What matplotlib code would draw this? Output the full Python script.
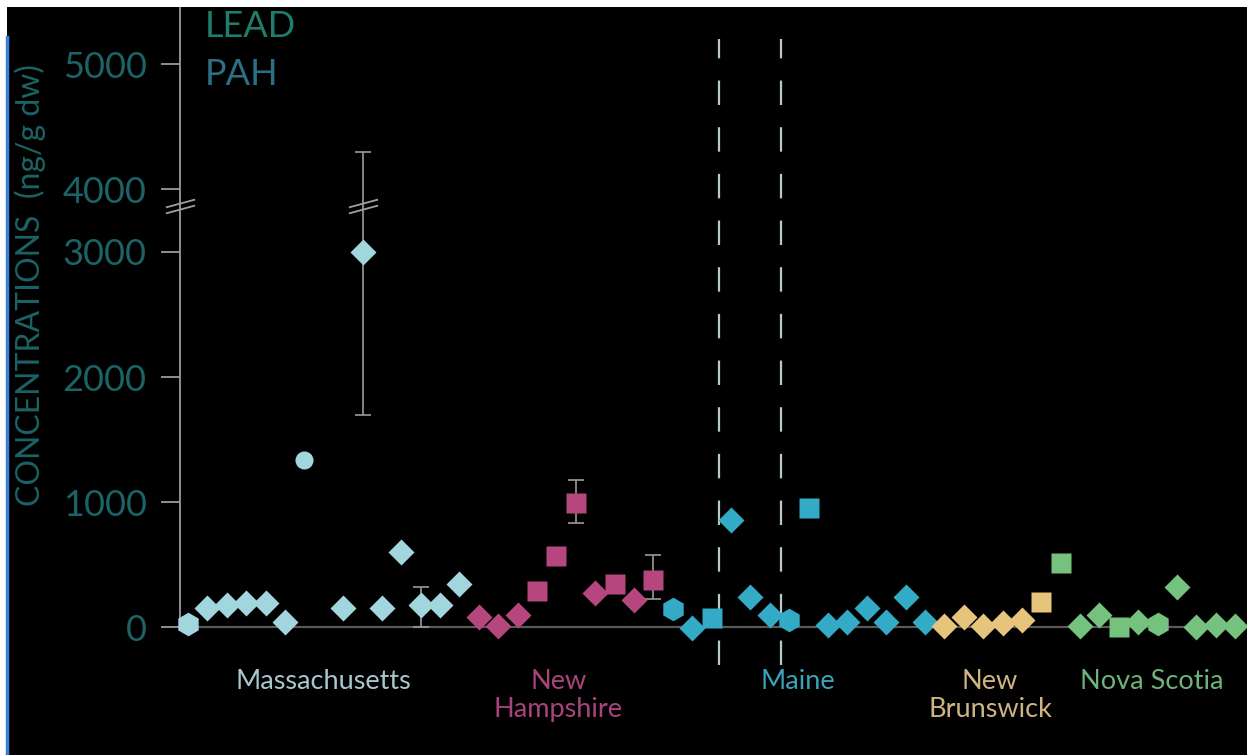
import numpy as np
import matplotlib.pyplot as plt
from matplotlib.patches import Rectangle
from matplotlib.lines import Line2D
import matplotlib.transforms as mtransforms

plt.rcParams['font.family'] = ['Lato', 'DejaVu Sans']

# site index along the coast, concentration (ng/g dw), marker shape
ma_x = [0, 1, 2, 3, 4, 5, 6, 8, 9, 10, 11, 12, 13, 14]
ma_y = [25, 150, 175, 190, 190, 40, 1340, 150, 3000, 150, 600, 175, 175, 345]
ma_m = ['h', 'D', 'D', 'D', 'D', 'D', 'o', 'D', 'D', 'D', 'D', 'D', 'D', 'D']

nh_x = [15, 16, 17, 18, 19, 20, 21, 22, 23, 24]
nh_y = [80, 10, 95, 290, 570, 990, 270, 345, 215, 375]
nh_m = ['D', 'D', 'D', 's', 's', 's', 'D', 's', 'D', 's']

me_x = [25, 26, 27, 28, 29, 30, 31, 32, 33, 34, 35, 36, 37, 38]
me_y = [145, -10, 70, 855, 240, 95, 55, 950, 15, 40, 150, 40, 240, 40]
me_m = ['h', 'D', 's', 'D', 'D', 'D', 'h', 's', 'D', 'D', 'D', 'D', 'D', 'D']

nb_x = [39, 40, 41, 42, 43, 44]
nb_y = [10, 85, 10, 30, 60, 205]
nb_m = ['D', 'D', 'D', 'D', 'D', 's']

ns_x = [45, 46, 47, 48, 49, 50, 51, 52, 53, 54]
ns_y = [510, 10, 95, 0, 40, 25, 320, 0, 15, 10]
ns_m = ['s', 'D', 'D', 's', 'D', 'h', 'D', 'D', 'D', 'D']

# error bars: site, low, high
err_x = [9, 12, 20, 24]
err_lo = [1700, 0, 830, 225]
err_hi = [4300, 320, 1180, 575]
err_mid = [3000, 175, 990, 375]

region_names = ['Massachusetts', 'New\nHampshire', 'Maine', 'New\nBrunswick', 'Nova Scotia']
region_pos = [6.96, 19.1, 31.45, 41.36, 49.7]
maine_bounds = [27.38, 30.58]
yticks = [0, 1000, 2000, 3000, 4000, 5000]

colors = {'ma': '#a2d6de', 'nh': '#b5477e', 'me': '#33abc6', 'nb': '#e6c47c', 'ns': '#74c27d'}
label_colors = ['#a9c6cd', '#a8447a', '#3aa3b8', '#cdb583', '#6fb27a']
msize = {'D': 13, 's': 14, 'o': 13, 'h': 17}


# broken axis: 3000-4000 squeezed to half
def fwd(v):
    v = np.asarray(v, dtype=float)
    return np.where(v <= 3000, v, np.where(v <= 4000, 3000 + 0.5 * (v - 3000), v - 500))


def inv(t):
    t = np.asarray(t, dtype=float)
    return np.where(t <= 3000, t, np.where(t <= 3500, 3000 + 2 * (t - 3000), t + 500))


W, H = 1247, 755
fig = plt.figure(figsize=(W / 100, H / 100), dpi=100, facecolor='white')
fig.add_artist(Rectangle((7 / W, 0), 1, (H - 7) / H, transform=fig.transFigure,
                         facecolor='black', edgecolor='none', zorder=0))
fig.add_artist(Line2D([7 / W, 7 / W], [0, 1 - 37 / H], transform=fig.transFigure,
                      color='#3a7fd6', lw=2.5, zorder=1))

ax = fig.add_axes([180 / W, 109 / H, 1063 / W, 638 / H])
ax.set_facecolor('none')
ax.set_yscale('function', functions=(fwd, inv))
ax.set_ylim(-150, 5450)
ax.set_xlim(-0.41, 54.4)

for xs, ys, ms, key in [(ma_x, ma_y, ma_m, 'ma'), (nh_x, nh_y, nh_m, 'nh'),
                        (me_x, me_y, me_m, 'me'), (nb_x, nb_y, nb_m, 'nb'),
                        (ns_x, ns_y, ns_m, 'ns')]:
    for x, y, m in zip(xs, ys, ms):
        ax.plot(x, y, marker=m, ms=msize[m], color=colors[key], mec='none',
                linestyle='none', zorder=5, clip_on=False)

ax.errorbar(err_x, err_mid, yerr=[np.subtract(err_mid, err_lo), np.subtract(err_hi, err_mid)],
            fmt='none', ecolor='#9a9a9a', elinewidth=1.2, capsize=6, capthick=1.2, zorder=3)

# break marks on axis and on the big error bar
slash = dict(marker=[(-1, -0.27), (1, 0.27)], ms=21, mew=1.3, color='#a0a0a0',
             linestyle='none', clip_on=False, zorder=6)
trans = mtransforms.blended_transform_factory(ax.transAxes, ax.transData)
ax.plot([0, 0], [3680, 3784], transform=trans, **slash)
ax.plot([9, 9], [3680, 3784], **slash)

ax.vlines(maine_bounds, -300, 5200, colors='#b9c9c9', linestyles=(0, (11, 10)),
          lw=1.6, clip_on=False, zorder=2)

for sp in ['top', 'right']:
    ax.spines[sp].set_visible(False)
ax.spines['left'].set_color('#9a9a9a')
ax.spines['left'].set_linewidth(1.3)
ax.spines['left'].set_bounds(0, 5450)
ax.spines['bottom'].set_position(('data', 0))
ax.spines['bottom'].set_color('#5a5a5a')
ax.spines['bottom'].set_linewidth(1.6)

ax.set_yticks(yticks)
ax.set_yticklabels([str(t) for t in yticks])
ax.tick_params(axis='y', length=14, width=1.3, color='#9a9a9a', pad=10,
               labelsize=26, labelcolor='#1b6366')
ax.set_xticks([])
ax.minorticks_off()

tl = mtransforms.blended_transform_factory(ax.transData, ax.transAxes)
for name, pos, c in zip(region_names, region_pos, label_colors):
    ax.text(pos, -0.036, name, transform=tl, ha='center', va='top',
            fontsize=19.5, color=c, linespacing=1.15)

fig.text(30 / W, 1 - 285 / H, 'CONCENTRATIONS  (ng/g dw)', rotation=90,
         ha='center', va='center', fontsize=23, color='#1b6366')
fig.text(205 / W, 1 - 37 / H, 'LEAD', ha='left', va='baseline', fontsize=26, color='#1f7d6b')
fig.text(205 / W, 1 - 85 / H, 'PAH', ha='left', va='baseline', fontsize=26, color='#2b7082')

fig.add_artist(Rectangle((0, 1 - 7 / H), 1, 7 / H, transform=fig.transFigure,
                         facecolor='white', edgecolor='none', zorder=20))

fig.savefig('out.png', dpi=100, facecolor='white')
